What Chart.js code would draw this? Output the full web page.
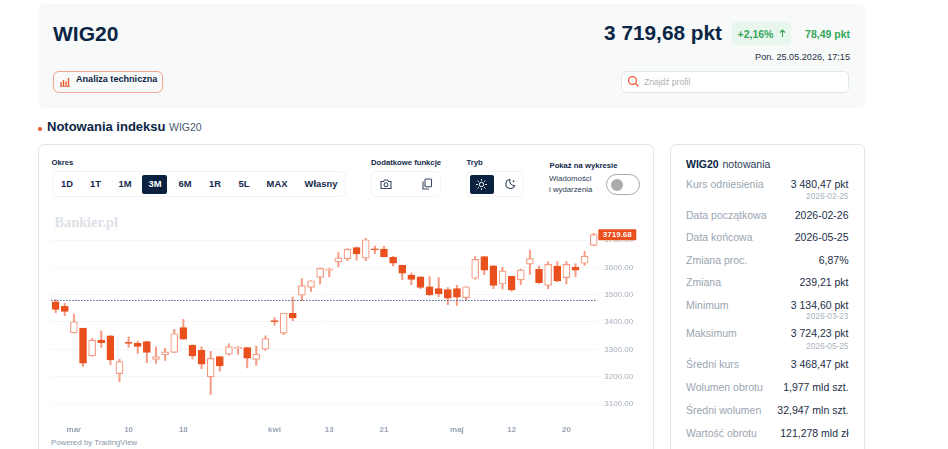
<!DOCTYPE html>
<html lang="pl"><head><meta charset="utf-8"><title>WIG20</title>
<script src="https://cdn.jsdelivr.net/npm/chart.js@4"></script>
<style>
html,body{margin:0;padding:0;background:#fff;width:948px;height:449px;overflow:hidden;font-family:"Liberation Sans",Arial,sans-serif;color:#0b2545}
.box{position:absolute;box-sizing:border-box}
.t{position:absolute;white-space:nowrap;transform:translateY(-50%);line-height:1}
.r{transform:translate(-100%,-50%)}
.c{transform:translate(-50%,-50%)}
.b{font-weight:700}
.l{font-size:10.5px;color:#9aa5b1;left:686px}
.v{font-size:10.5px;color:#1d2f47;left:848.5px}
.s{font-size:8.3px;color:#aab2bc;left:848.5px}
.h{font-size:7.7px;font-weight:700;color:#14294a}
.p{font-size:9.4px;font-weight:700;color:#14294a}
svg{position:absolute}
#wrap{position:absolute;left:42px;top:205px;width:600px;height:235px}
</style></head><body>
<div class="box" style="left:38px;top:4px;width:827px;height:104px;background:#f8faf9;border-radius:6px"></div>
<div class="t b" style="left:53px;top:32.5px;font-size:21px">WIG20</div>
<div class="box" style="left:53px;top:70.5px;width:110px;height:22px;border:1.5px solid #f3a78f;border-radius:6px"></div>
<svg style="left:60px;top:76px" width="11" height="11"><path d="M1 6v4M3.5 4v6M6 5.5v4.5M8.5 2v8" stroke="#ea5a2e" stroke-width="1.4"/><path d="M0 10.5h10" stroke="#ea5a2e" stroke-width=".8"/></svg>
<div class="t b" style="left:76px;top:80px;font-size:9.1px">Analiza techniczna</div>
<div class="t b r" style="left:722px;top:32.5px;font-size:20.8px">3 719,68 pkt</div>
<div class="box" style="left:732px;top:22px;width:59px;height:22.5px;background:#e9f6ee;border-radius:4px"></div>
<div class="t b" style="left:737.5px;top:33.5px;font-size:10.5px;color:#34a65a">+2,16%</div>
<svg style="left:778px;top:28px" width="10" height="10"><path d="M4.5 9V2M2 4.5 4.5 2 7 4.5" fill="none" stroke="#34a65a" stroke-width="1.1"/></svg>
<div class="t b r" style="left:850px;top:33.5px;font-size:10.5px;color:#34a65a">78,49 pkt</div>
<div class="t r" style="left:850px;top:57.5px;font-size:9.15px;color:#1d2f47">Pon. 25.05.2026, 17:15</div>
<div class="box" style="left:621px;top:71px;width:228px;height:21.5px;background:#fff;border:1px solid #e4e7ea;border-radius:5px"></div>
<svg style="left:627px;top:75px" width="13" height="13"><circle cx="5.5" cy="5.5" r="3.9" fill="none" stroke="#ea5a2e" stroke-width="1.3"/><path d="M8.4 8.4 11.5 11.5" stroke="#ea5a2e" stroke-width="1.3"/></svg>
<div class="t" style="left:644px;top:81.5px;font-size:8.5px;color:#b0b0b0">Znajdź profil</div>

<div class="box" style="left:38px;top:127px;width:3.5px;height:3.5px;background:#ea5a2e;border-radius:50%"></div>
<div class="t b" style="left:47px;top:125.5px;font-size:13px">Notowania indeksu</div>
<div class="t" style="left:169px;top:126.5px;font-size:10.5px;color:#4b5a6d">WIG20</div>

<div class="box" style="left:38px;top:144px;width:616px;height:320px;border:1px solid #e3e6e8;border-radius:6px"></div>
<div class="box" style="left:670px;top:144px;width:195px;height:320px;border:1px solid #e3e6e8;border-radius:6px"></div>

<div class="t h" style="left:51.5px;top:163px">Okres</div>
<div class="box" style="left:51.5px;top:171px;width:294px;height:25.5px;border:1px solid #f2f3f4;border-radius:5px"></div>
<div class="box" style="left:142px;top:174.5px;width:25px;height:19.5px;background:#0a2240;border-radius:2px"></div>
<div class="t p c" style="left:67px;top:183.5px">1D</div>
<div class="t p c" style="left:95.5px;top:183.5px">1T</div>
<div class="t p c" style="left:125px;top:183.5px">1M</div>
<div class="t p c" style="left:155px;top:183.5px;color:#fff">3M</div>
<div class="t p c" style="left:185px;top:183.5px">6M</div>
<div class="t p c" style="left:215px;top:183.5px">1R</div>
<div class="t p c" style="left:244px;top:183.5px">5L</div>
<div class="t p c" style="left:277px;top:183.5px">MAX</div>
<div class="t p c" style="left:321px;top:183.5px">Własny</div>

<div class="t h" style="left:371px;top:163px">Dodatkowe funkcje</div>
<div class="box" style="left:371px;top:171px;width:70px;height:25.5px;border:1px solid #f2f3f4;border-radius:5px"></div>
<svg style="left:380px;top:178px" width="12" height="12"><path d="M1 3.5h2.5L4.5 2h3l1 1.5H11V10.5H1Z" fill="none" stroke="#3a4a60" stroke-width="1.1"/><circle cx="6" cy="6.7" r="1.9" fill="none" stroke="#3a4a60" stroke-width="1.1"/></svg>
<svg style="left:421px;top:178px" width="12" height="12"><rect x="4" y="1" width="6.5" height="7.8" rx="1" fill="none" stroke="#3a4a60" stroke-width="1.1"/><path d="M2 3.5V11h6" fill="none" stroke="#3a4a60" stroke-width="1.1"/></svg>

<div class="t h" style="left:466.5px;top:163px">Tryb</div>
<div class="box" style="left:466px;top:171px;width:58px;height:25.5px;border:1px solid #f2f3f4;border-radius:5px"></div>
<div class="box" style="left:469.5px;top:174.5px;width:24px;height:19.5px;background:#0a2240;border-radius:2px"></div>
<svg style="left:476px;top:178.5px" width="11" height="11"><circle cx="5.5" cy="5.5" r="2.2" fill="none" stroke="#fff"/><path d="M5.5 0v1.8M5.5 9.2V11M0 5.5h1.8M9.2 5.5H11M1.6 1.6 2.9 2.9M8.1 8.1 9.4 9.4M1.6 9.4 2.9 8.1M8.1 2.9 9.4 1.6" stroke="#fff" stroke-width=".9"/></svg>
<svg style="left:504px;top:178px" width="12" height="12"><path d="M6 1.5A4.5 4.5 0 1 0 10.6 7.6 4.6 4.6 0 0 1 6 1.5Z" fill="none" stroke="#3a4a60" stroke-width="1.1"/><path d="M9.5 2.3v2M8.5 3.3h2" stroke="#3a4a60" stroke-width=".8"/></svg>

<div class="t h" style="left:549.5px;top:166px">Pokaż na wykresie</div>
<div class="t" style="left:549px;top:179px;font-size:7.8px;color:#2b3c55">Wiadomości</div>
<div class="t" style="left:549px;top:189.5px;font-size:7.8px;color:#2b3c55">i wydarzenia</div>
<div class="box" style="left:606px;top:174px;width:34px;height:20.5px;border:1.5px solid #a9a9a9;border-radius:11px;background:#fff"></div>
<div class="box" style="left:611px;top:178.5px;width:12px;height:12px;border-radius:50%;background:#ababab"></div>

<div class="t b" style="left:54.5px;top:222px;font-family:'Liberation Serif',serif;font-size:14.3px;color:#dde2e8">Bankier.pl</div>
<div class="t" style="left:51px;top:443px;font-size:7.8px;color:#8a97a8">Powered by TradingView</div>

<div class="t b" style="left:686px;top:164px;font-size:10.5px">WIG20</div>
<div class="t" style="left:722.5px;top:164px;font-size:10.5px;color:#2b3c55">notowania</div>
<div class="t l" style="top:184px">Kurs odniesienia</div><div class="t v r" style="top:184px">3 480,47 pkt</div><div class="t s r" style="top:196px">2026-02-25</div>
<div class="t l" style="top:214.5px">Data początkowa</div><div class="t v r" style="top:214.5px">2026-02-26</div>
<div class="t l" style="top:237px">Data końcowa</div><div class="t v r" style="top:237px">2026-05-25</div>
<div class="t l" style="top:259.5px">Zmiana proc.</div><div class="t v r" style="top:259.5px">6,87%</div>
<div class="t l" style="top:282px">Zmiana</div><div class="t v r" style="top:282px">239,21 pkt</div>
<div class="t l" style="top:304.5px">Minimum</div><div class="t v r" style="top:304.5px">3 134,60 pkt</div><div class="t s r" style="top:315.5px">2026-03-23</div>
<div class="t l" style="top:333px">Maksimum</div><div class="t v r" style="top:333px">3 724,23 pkt</div><div class="t s r" style="top:346px">2026-05-25</div>
<div class="t l" style="top:364px">Średni kurs</div><div class="t v r" style="top:364px">3 468,47 pkt</div>
<div class="t l" style="top:387px">Wolumen obrotu</div><div class="t v r" style="top:387px">1,977 mld szt.</div>
<div class="t l" style="top:410px">Średni wolumen</div><div class="t v r" style="top:410px">32,947 mln szt.</div>
<div class="t l" style="top:432.5px">Wartość obrotu</div><div class="t v r" style="top:432.5px">121,278 mld zł</div>

<div id="wrap"><canvas id="c" width="600" height="235"></canvas></div>
<script>
const categories = ["02-26","02-27","03-02","03-03","03-04","03-05","03-06","03-09","03-10","03-11","03-12","03-13","03-16","03-17","03-18","03-19","03-20","03-23","03-24","03-25","03-26","03-27","03-30","03-31","04-01","04-02","04-07","04-08","04-09","04-10","04-13","04-14","04-15","04-16","04-17","04-20","04-21","04-22","04-23","04-24","04-27","04-28","04-29","04-30","05-04","05-05","05-06","05-07","05-08","05-11","05-12","05-13","05-14","05-15","05-18","05-19","05-20","05-21","05-22","05-25"];
const openValues = [3474,3457,3360,3377,3276,3334,3349,3211,3326,3322,3328,3263,3280,3289,3380,3315,3296,3199,3273,3282,3302,3306,3263,3301,3405,3359,3432,3498,3527,3563,3589,3620,3632,3672,3634,3668,3667,3637,3607,3572,3565,3529,3522,3519,3522,3489,3560,3639,3606,3539,3567,3554,3612,3593,3534,3605,3562,3600,3615,3680];
const highValues = [3483,3468,3429,3378,3339,3368,3350,3263,3346,3329,3329,3309,3304,3373,3410,3316,3309,3293,3274,3320,3310,3307,3311,3349,3416,3432,3491,3559,3552,3597,3596,3654,3669,3674,3706,3678,3677,3640,3608,3579,3565,3566,3563,3526,3534,3530,3639,3640,3607,3600,3568,3594,3663,3605,3620,3620,3621,3613,3659,3724.23];
const lowValues = [3434,3423,3360,3237,3275,3307,3244,3182,3307,3285,3251,3248,3259,3288,3336,3265,3229,3134.6,3220,3279,3282,3232,3241,3296,3388,3354,3405,3478,3512,3539,3565,3602,3624,3626,3624,3650,3638,3605,3555,3537,3522,3495,3493,3463,3461,3480,3557,3573,3522,3520,3512,3537,3574,3541,3522,3548,3539,3566,3607,3678];
const closeValues = [3446,3439,3401,3249,3334,3324,3261,3255,3322,3311,3289,3273,3291,3357,3337,3276,3246,3267,3239,3310,3307,3268,3282,3339,3401,3432,3415,3533,3551,3596,3595,3635,3666,3649,3701,3665,3639,3615,3579,3556,3527,3500,3504,3487,3491,3529,3629,3590,3534,3587,3517,3591,3632,3544,3611,3550,3611,3590,3641,3719.68];
const yTickValues = [3100,3200,3300,3400,3500,3600,3700];
const xTickLabels = {"03-02":"mar","03-10":"10","03-18":"18","04-01":"kwi","04-13":"13","04-21":"21","05-04":"maj","05-12":"12","05-20":"20"};
const referenceValue = 3480.47;
const lastValue = 3719.68;

const wicks = categories.map((_, i) => [lowValues[i], highValues[i]]);
const bodies = categories.map((_, i) => [openValues[i], closeValues[i]]);
const isUp = i => closeValues[i] >= openValues[i];
const ORANGE = '#ea4f1e', SOFT = '#f59c84';

const overlay = {
  id: 'overlay',
  afterDatasetsDraw(chart) {
    const { ctx, scales: { y }, chartArea: a } = chart;
    const py = y.getPixelForValue(referenceValue);
    ctx.save();
    ctx.strokeStyle = '#4f6690';
    ctx.lineWidth = 1;
    ctx.setLineDash([1.5, 1.5]);
    ctx.beginPath(); ctx.moveTo(a.left, Math.round(py) + .5); ctx.lineTo(a.right - 1, Math.round(py) + .5); ctx.stroke();
    ctx.setLineDash([]);
    const ly = y.getPixelForValue(lastValue);
    ctx.fillStyle = ORANGE;
    ctx.beginPath(); ctx.roundRect(a.right, ly - 5.5, 38, 11, 1); ctx.fill();
    ctx.fillStyle = '#fff';
    ctx.font = 'bold 8px "Liberation Sans"';
    ctx.textAlign = 'center'; ctx.textBaseline = 'middle';
    ctx.fillText(lastValue.toFixed(2), a.right + 19, ly + .5);
    ctx.restore();
  }
};

new Chart(document.getElementById('c'), {
  type: 'bar',
  data: {
    labels: categories,
    datasets: [
      { data: wicks, order: 2, grouped: false, barThickness: 1.4, backgroundColor: SOFT, borderWidth: 0 },
      { data: bodies, order: 1, grouped: false, barThickness: 7, borderSkipped: false, borderWidth: 1.2,
        backgroundColor: c => isUp(c.dataIndex) ? '#ffffff' : ORANGE,
        borderColor: c => isUp(c.dataIndex) ? SOFT : ORANGE }
    ]
  },
  options: {
    responsive: false, animation: false,
    layout: { padding: { left: 9.1, right: 0, top: 7.7, bottom: 0 } },
    plugins: { legend: { display: false }, tooltip: { enabled: false } },
    scales: {
      x: {
        offset: true,
        grid: { display: false }, border: { display: false },
        afterFit: s => { s.height = 25.1; },
        ticks: {
          autoSkip: false, maxRotation: 0, padding: 2, color: '#98a4b4',
          font: { size: 8, weight: 'bold', family: '"Liberation Sans"' },
          callback(v) { return xTickLabels[categories[v]] || ''; }
        }
      },
      y: {
        position: 'right', min: 3060, max: 3800,
        grid: { color: '#f5f6f7', drawTicks: false }, border: { display: false },
        afterBuildTicks: s => { s.ticks = yTickValues.map(value => ({ value })); },
        afterFit: s => { s.width = 43.7; s.paddingTop = 0; s.paddingBottom = 0; },
        ticks: {
          padding: 6, color: '#a6b0be',
          font: { size: 8, family: '"Liberation Sans"' },
          callback: v => Number(v).toFixed(2)
        }
      }
    }
  },
  plugins: [overlay]
});
</script>
</body></html>
